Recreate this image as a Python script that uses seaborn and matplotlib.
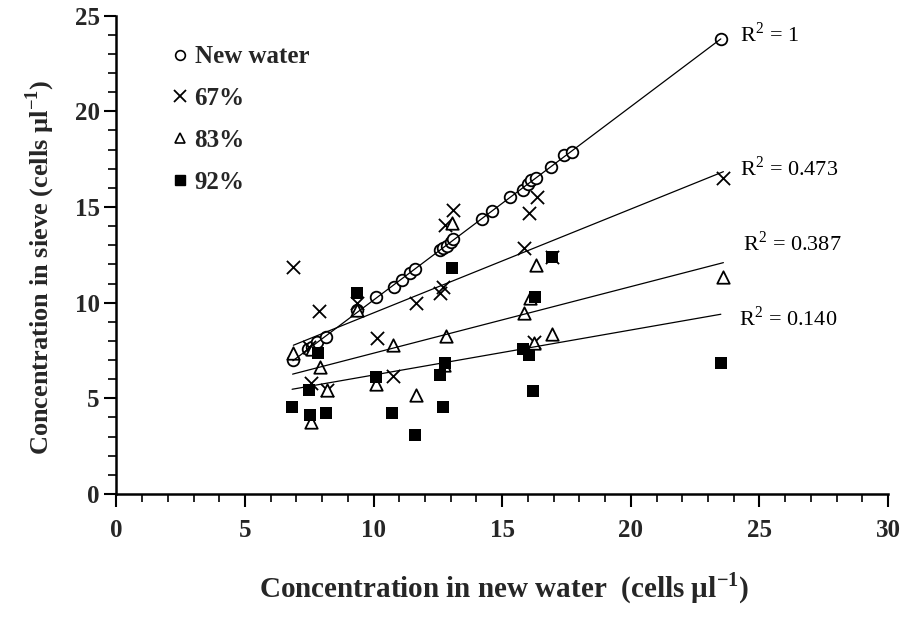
import matplotlib
matplotlib.use("Agg")
import matplotlib.pyplot as plt
from matplotlib.lines import Line2D
from matplotlib.ticker import MultipleLocator
import seaborn as sns
import pandas as pd

# ---- data ----
new_x = [6.86, 7.45, 7.6, 7.8, 8.15, 9.36, 10.1, 10.8, 11.1, 11.4, 11.6, 12.57, 12.7, 12.85,
         13.0, 13.1, 14.2, 14.6, 15.3, 15.8, 16.0, 16.1, 16.3, 16.9, 17.4, 17.7, 23.5]
new_y = [7.0, 7.6, 7.7, 7.95, 8.2, 9.6, 10.3, 10.8, 11.2, 11.55, 11.76, 12.74, 12.85, 12.95,
         13.17, 13.33, 14.4, 14.8, 15.5, 15.9, 16.2, 16.4, 16.5, 17.1, 17.7, 17.9, 23.8]

x67 = [6.88, 7.5, 7.55, 7.88, 8.18, 9.37, 10.12, 10.74, 11.65, 12.6, 12.7, 12.78, 13.07,
       15.85, 16.05, 16.34, 16.24, 16.92, 23.6]
y67 = [11.88, 7.7, 5.82, 9.58, 5.44, 10.0, 8.14, 6.17, 10.0, 10.5, 10.8, 14.06, 14.85,
       12.84, 14.7, 15.54, 7.96, 12.4, 16.5]

x83 = [6.85, 7.6, 7.9, 9.37, 10.75, 8.18, 7.55, 10.1, 11.65, 13.04, 12.81, 12.74, 16.31,
       16.08, 15.85, 16.24, 16.92, 23.6]
y83 = [7.39, 7.6, 6.66, 9.62, 7.79, 5.44, 3.78, 5.75, 5.17, 14.15, 8.26, 6.74, 11.97,
       10.23, 9.48, 7.91, 8.36, 11.36]

x92 = [6.83, 7.53, 7.47, 7.85, 8.15, 9.37, 10.1, 10.7, 11.6, 13.04, 12.78, 12.58, 12.71,
       16.92, 16.28, 15.82, 16.05, 16.18, 23.5]
y92 = [4.56, 4.13, 5.44, 7.39, 4.22, 10.52, 6.13, 4.25, 3.08, 11.8, 6.83, 6.22, 4.56,
       12.37, 10.31, 7.58, 7.27, 5.4, 6.83]

series_names = ["New water", "67%", "83%", "92%"]
r2_labels = ["R$^2$ = 1", "R$^2$ = 0.473", "R$^2$ = 0.387", "R$^2$ = 0.140"]
x_ticks = [0, 5, 10, 15, 20, 25, 30]
y_ticks = [0, 5, 10, 15, 20, 25]

# ---- style ----
sns.set_style("ticks")
plt.rcParams['font.family'] = ['Liberation Serif', 'DejaVu Serif']
plt.rcParams['mathtext.fontset'] = 'custom'
plt.rcParams['mathtext.rm'] = 'Liberation Serif'
plt.rcParams['mathtext.bf'] = 'Liberation Serif:bold'

fig = plt.figure(figsize=(9.04, 6.18), dpi=100)
ax = fig.add_axes([0.1288, 0.2006, 0.8535, 0.7740])

data = [(new_x, new_y), (x67, y67), (x83, y83), (x92, y92)]
styles = [
    dict(marker="o", scatter_kws=dict(s=70, facecolors="white", edgecolors="black", linewidths=1.3, alpha=1)),
    dict(marker="x", scatter_kws=dict(s=90, color="black", linewidths=1.3, alpha=1)),
    dict(marker="^", scatter_kws=dict(s=80, facecolors="white", edgecolors="black", linewidths=1.3, alpha=1)),
    dict(marker="s", scatter_kws=dict(s=70, color="black", linewidths=0, alpha=1)),
]
for (xs, ys), st in zip(data, styles):
    df = pd.DataFrame({"x": xs, "y": ys})
    sns.regplot(data=df, x="x", y="y", ax=ax, ci=None, truncate=True,
                marker=st["marker"], scatter_kws=st["scatter_kws"],
                line_kws=dict(color="black", linewidth=0.9))

# R^2 annotations
r2_pos = [(24.25, 24.0), (24.25, 17.0), (24.35, 13.1), (24.2, 9.2)]
for (tx, ty), lab in zip(r2_pos, r2_labels):
    ax.text(tx, ty, lab, fontsize=16, ha="left", va="center", color="black")

ax.set_xlim(0, 30)
ax.set_ylim(0, 25)
ax.set_xticks(x_ticks)
ax.set_yticks(y_ticks)
ax.xaxis.set_minor_locator(MultipleLocator(1))
ax.yaxis.set_minor_locator(MultipleLocator(1))
ax.tick_params(which="major", length=9, width=1.5, direction="out", labelsize=18, color="black")
ax.tick_params(which="minor", length=6, width=1.2, direction="out", color="black")
ax.tick_params(axis="x", which="major", pad=9)
ax.tick_params(axis="y", which="major", pad=3)
for lbl in ax.get_xticklabels() + ax.get_yticklabels():
    lbl.set_fontweight("bold")
sns.despine(ax=ax)
for sp in ["left", "bottom"]:
    ax.spines[sp].set_linewidth(1.8)
    ax.spines[sp].set_color("black")

ax.set_xlabel("Concentration in new water  (cells µl$^{\\mathbf{-1}}$)", fontsize=21,
              fontweight="bold", va="center")
ax.set_ylabel("Concentration in sieve (cells µl$^{\\mathbf{-1}}$)", fontsize=19,
              fontweight="bold", va="center")
ax.xaxis.set_label_coords(0.503, -0.197)
ax.yaxis.set_label_coords(-0.099, 0.473)

handles = [
    Line2D([], [], marker="o", linestyle="none", markerfacecolor="white", markeredgecolor="black", markersize=7, markeredgewidth=1.2),
    Line2D([], [], marker="x", linestyle="none", color="black", markersize=8, markeredgewidth=1.3),
    Line2D([], [], marker="^", linestyle="none", markerfacecolor="white", markeredgecolor="black", markersize=7, markeredgewidth=1.2),
    Line2D([], [], marker="s", linestyle="none", color="black", markersize=7),
]
leg = ax.legend(handles, series_names, loc="upper left", bbox_to_anchor=(0.043, 0.985),
                frameon=False, handlelength=0.6, handletextpad=0.3, labelspacing=0.75,
                prop=dict(family="Liberation Serif", weight="bold", size=18))

fig.savefig("out.png", dpi=100)
